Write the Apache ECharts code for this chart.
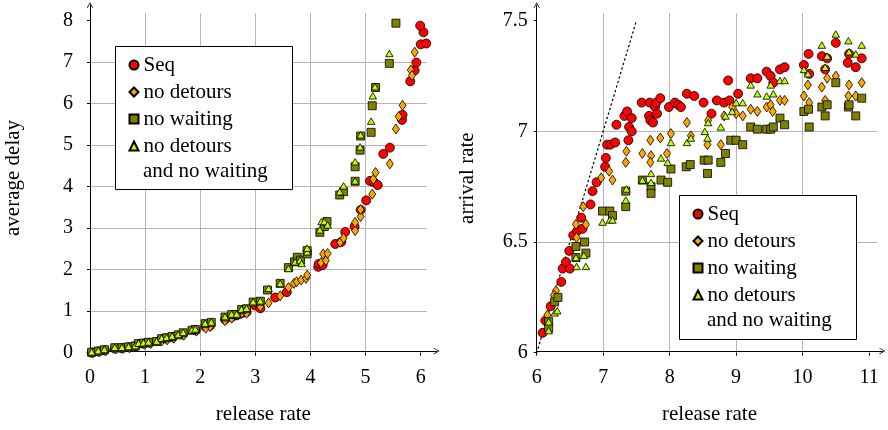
<!DOCTYPE html>
<html><head><meta charset="utf-8">
<script src="https://cdn.jsdelivr.net/npm/echarts@6/dist/echarts.min.js"></script>
<style>html,body{margin:0;padding:0;background:#fff}#c{width:888px;height:430px}</style>
</head><body><div id="c"></div>
<script>
// ---------- data: left panel (release rate -> average delay) ----------
const seriesNames = ['Seq', 'no detours', 'no waiting', 'no detours and no waiting'];
const xTicksL = [0, 1, 2, 3, 4, 5, 6];
const yTicksL = [0, 1, 2, 3, 4, 5, 6, 7, 8];
const xTicksR = [6, 7, 8, 9, 10, 11];
const yTicksR = [6, 6.5, 7, 7.5];
const diagR = [[6, 6], [7.5, 7.5]];

const seqL = [[0.03,0.0],[0.15,0.03],[0.27,0.06],[0.45,0.10],[0.57,0.11],[0.70,0.13],[0.82,0.16],[0.97,0.22],[1.08,0.24],[1.27,0.30],[1.38,0.34],[1.50,0.37],[1.68,0.44],[1.92,0.54],[2.09,0.63],[2.18,0.65],[2.45,0.80],[2.57,0.86],[2.66,0.90],[2.75,0.95],[2.84,0.98],[2.99,1.14],[3.09,1.07],[3.36,1.33],[3.57,1.46],[4.14,2.07],[4.15,2.14],[4.22,2.11],[4.45,2.62],[4.56,2.67],[4.63,2.91],[4.80,3.04],[4.91,3.44],[5.01,3.67],[5.08,4.14],[5.15,4.11],[5.22,4.04],[5.32,4.79],[5.44,4.94],[5.66,5.61],[5.67,5.73],[5.81,6.54],[5.89,6.80],[5.92,6.99],[6.00,7.43],[6.10,7.45],[6.05,7.72],[5.99,7.88]];
const detL = [[0.05,0.00],[0.17,0.02],[0.28,0.04],[0.47,0.09],[0.60,0.10],[0.72,0.12],[0.85,0.15],[0.99,0.20],[1.10,0.22],[1.30,0.28],[1.40,0.31],[1.52,0.35],[1.70,0.42],[1.93,0.52],[2.10,0.59],[2.18,0.63],[2.45,0.77],[2.57,0.83],[2.66,0.91],[2.75,0.95],[2.84,0.95],[3.09,1.11],[3.24,1.20],[3.45,1.37],[3.60,1.57],[3.70,1.67],[3.75,1.71],[3.83,1.75],[3.92,1.79],[3.94,1.87],[4.19,2.17],[4.23,2.38],[4.28,2.22],[4.31,2.39],[4.54,2.66],[4.60,2.76],[4.81,2.94],[4.81,3.14],[4.91,3.28],[4.91,3.45],[5.12,3.82],[5.14,4.18],[5.18,4.34],[5.44,4.55],[5.55,5.39],[5.60,5.69],[5.67,5.96],[5.82,6.81],[5.84,6.68],[5.89,7.24]];
const waitL = [[0.03,0.01],[0.15,0.04],[0.26,0.07],[0.45,0.12],[0.58,0.12],[0.70,0.14],[0.82,0.16],[0.88,0.22],[0.97,0.23],[1.06,0.25],[1.21,0.27],[1.30,0.34],[1.39,0.36],[1.49,0.39],[1.60,0.43],[1.69,0.48],[1.85,0.54],[1.91,0.56],[2.09,0.70],[2.20,0.73],[2.45,0.86],[2.57,0.92],[2.66,0.92],[2.75,1.04],[2.84,1.06],[2.96,1.22],[3.09,1.24],[3.22,1.51],[3.45,1.67],[3.60,2.05],[3.71,2.19],[3.76,2.30],[3.82,2.23],[3.94,2.38],[3.94,2.46],[4.17,2.90],[4.25,3.04],[4.30,3.16],[4.53,3.80],[4.60,3.88],[4.81,4.13],[4.81,4.48],[4.90,4.88],[4.91,5.22],[5.10,5.31],[5.12,5.95],[5.18,6.39],[5.43,6.97],[5.55,7.94]];
const bothL = [[0.03,0.02],[0.15,0.05],[0.26,0.08],[0.45,0.13],[0.58,0.13],[0.70,0.15],[0.82,0.17],[0.88,0.23],[0.97,0.24],[1.06,0.26],[1.21,0.28],[1.30,0.35],[1.39,0.37],[1.49,0.40],[1.60,0.44],[1.69,0.49],[1.85,0.55],[1.91,0.57],[2.09,0.71],[2.20,0.74],[2.45,0.87],[2.57,0.93],[2.66,0.93],[2.75,1.05],[2.84,1.07],[2.96,1.23],[3.09,1.25],[3.24,1.55],[3.45,1.67],[3.60,2.03],[3.72,2.19],[3.81,2.23],[3.84,2.15],[3.94,2.43],[3.94,2.52],[4.17,2.96],[4.20,3.16],[4.25,3.16],[4.31,3.08],[4.53,3.88],[4.60,4.02],[4.81,4.14],[4.81,4.60],[4.90,4.96],[4.91,5.25],[5.10,5.58],[5.13,6.19],[5.17,6.41],[5.43,7.21]];

// ---------- data: right panel (release rate -> arrival rate) ----------
const seqR = [[6.09,6.09],[6.13,6.145],[6.21,6.21],[6.37,6.32],[6.39,6.38],[6.50,6.38],[6.44,6.41],[6.49,6.46],[6.55,6.53],[6.61,6.55],[6.67,6.61],[6.69,6.56],[6.81,6.67],[6.84,6.73],[6.90,6.77],[7.03,6.84],[7.04,6.88],[7.06,6.94],[7.11,6.94],[7.18,6.95],[7.20,7.03],[7.32,7.07],[7.36,7.09],[7.43,7.06],[7.39,7.02],[7.43,7.00],[7.38,6.96],[7.58,7.13],[7.69,7.07],[7.70,7.13],[7.71,7.05],[7.75,7.04],[7.78,7.11],[7.80,7.13],[7.81,7.08],[7.86,7.15],[7.99,7.11],[8.08,7.13],[8.13,7.12],[8.17,7.11],[8.26,7.17],[8.37,7.16],[8.51,7.13],[8.63,7.08],[8.71,7.14],[8.82,7.13],[8.90,7.14],[8.88,7.23],[9.03,7.17],[9.22,7.24],[9.32,7.24],[9.46,7.27],[9.52,7.25],[9.56,7.22],[9.66,7.28],[9.73,7.29],[10.02,7.30],[10.09,7.35],[10.10,7.26],[10.29,7.34],[10.34,7.28],[10.37,7.33],[10.50,7.40],[10.68,7.31],[10.70,7.35],[10.80,7.29],[10.89,7.33]];
const detR = [[6.16,6.17],[6.29,6.28],[6.26,6.26],[6.59,6.58],[6.60,6.52],[6.70,6.66],[6.74,6.58],[6.97,6.79],[7.09,6.82],[7.14,6.78],[7.35,6.91],[7.34,6.86],[7.59,6.90],[7.72,6.89],[7.71,6.86],[7.71,6.96],[7.86,6.97],[7.96,6.90],[8.02,6.99],[8.26,7.04],[8.32,6.98],[8.57,6.94],[8.58,7.05],[8.77,6.94],[8.82,7.07],[8.94,7.11],[9.00,7.08],[9.10,7.07],[9.22,7.10],[9.32,7.09],[9.46,7.11],[9.52,7.12],[9.55,7.09],[9.66,7.14],[9.73,7.14],[10.02,7.16],[10.08,7.21],[10.10,7.13],[10.29,7.20],[10.34,7.14],[10.37,7.24],[10.50,7.25],[10.70,7.21],[10.69,7.16],[10.80,7.16],[10.89,7.22]];
const waitR = [[6.18,6.14],[6.18,6.11],[6.27,6.23],[6.32,6.25],[6.59,6.48],[6.59,6.43],[6.72,6.50],[6.74,6.45],[6.99,6.64],[7.10,6.64],[7.14,6.62],[7.34,6.73],[7.34,6.66],[7.59,6.78],[7.72,6.75],[7.72,6.72],[7.87,6.78],[7.97,6.77],[8.02,6.83],[8.25,6.84],[8.31,6.85],[8.52,6.87],[8.58,6.87],[8.57,6.81],[8.77,6.86],[8.84,6.90],[8.92,6.96],[9.00,6.96],[9.10,6.94],[9.22,7.02],[9.32,7.01],[9.46,7.01],[9.52,7.01],[9.56,7.02],[9.66,7.06],[9.73,7.03],[10.02,7.09],[10.09,7.10],[10.10,7.02],[10.29,7.11],[10.34,7.07],[10.37,7.12],[10.50,7.22],[10.69,7.11],[10.70,7.12],[10.80,7.07],[10.89,7.15]];
const bothR = [[6.18,6.10],[6.18,6.14],[6.27,6.18],[6.31,6.19],[6.60,6.39],[6.59,6.43],[6.71,6.44],[6.74,6.39],[6.99,6.59],[7.10,6.60],[7.14,6.60],[7.34,6.69],[7.35,6.74],[7.59,6.78],[7.72,6.77],[7.72,6.81],[7.87,6.88],[7.97,6.86],[8.02,6.95],[8.26,6.95],[8.32,6.97],[8.53,7.00],[8.57,6.97],[8.58,7.04],[8.77,7.02],[8.84,7.07],[8.94,7.09],[9.00,7.13],[9.10,7.13],[9.22,7.21],[9.32,7.17],[9.46,7.16],[9.52,7.21],[9.56,7.17],[9.66,7.23],[9.73,7.23],[10.02,7.28],[10.08,7.26],[10.29,7.39],[10.34,7.29],[10.37,7.34],[10.50,7.44],[10.69,7.41],[10.70,7.36],[10.80,7.35],[10.89,7.39]];

// ---------- styling ----------
const FONT = 'Liberation Serif';
const styles = [
  { symbol: 'circle',   size: 9,       color: '#ff0000' },
  { symbol: 'diamond',  size: [7, 10], color: '#ffa500' },
  { symbol: 'rect',     size: 8,       color: '#808000' },
  { symbol: 'triangle', size: [7.5, 6.5], color: '#bfff00' }
];
const arrowPath = 'path://M0,9 L5,0 L10,9 L9,9.6 L5,2.2 L1,9.6 Z';

function arrowAxis(grid, min, max) {
  return {
    type: 'value', gridIndex: grid, min: min, max: max,
    axisLine: { show: true, onZero: false, lineStyle: { color: '#000', width: 1 },
      symbol: ['none', arrowPath], symbolSize: [8, 6] },
    axisTick: { show: false }, axisLabel: { show: false }, splitLine: { show: false }
  };
}
function mainAxis(grid, min, max, interval, ticks, margin) {
  return {
    type: 'value', gridIndex: grid, min: min, max: max, interval: interval,
    axisLine: { show: false },
    axisTick: { show: true, length: 3, customValues: ticks, lineStyle: { color: '#000' } },
    axisLabel: { show: true, customValues: ticks, margin: margin,
      fontFamily: FONT, fontSize: 20, color: '#000' },
    splitLine: { show: true, showMinLine: false, showMaxLine: false,
      lineStyle: { color: '#b5b5b5', width: 1 } }
  };
}
function titled(ax, name, gap, rotate) {
  return Object.assign(ax, { name: name, nameLocation: 'middle', nameGap: gap, nameRotate: rotate,
    nameTextStyle: { fontFamily: FONT, fontSize: 21, color: '#000' } });
}

const grids = [
  { left: 90, top: 4.9,  width: 346.7, height: 347.8 },   // left arrows
  { left: 90, top: 13.2, width: 336.8, height: 339.5 },   // left main
  { left: 536.7, top: 5.3, width: 345.6, height: 347.4 }, // right arrows
  { left: 536.7, top: 13.2, width: 340.3, height: 339.5 } // right main
];

const xAxes = [
  titled(arrowAxis(0, 0, 6.29), 'release rate', 53, 0),
  mainAxis(1, 0, 6.11, 1, xTicksL, 15),
  titled(arrowAxis(2, 6, 11.2), 'release rate', 53, 0),
  mainAxis(3, 6, 11.12, 1, xTicksR, 15)
];
const yAxes = [
  titled(arrowAxis(0, 0, 8.38), 'average delay', 66, 90),
  mainAxis(1, 0, 8.18, 1, yTicksL, 17),
  titled(arrowAxis(2, 6, 7.57), 'arrival rate', 59, 90),
  mainAxis(3, 6, 7.534, 0.5, yTicksR, 9)
];

function scatter(name, data, axisIdx, st) {
  return {
    type: 'scatter', name: name, data: data, xAxisIndex: axisIdx, yAxisIndex: axisIdx,
    symbol: st.symbol, symbolSize: st.size, z: 2,
    itemStyle: { color: st.color, borderColor: '#000', borderWidth: 0.8, opacity: 1 },
    emphasis: { disabled: true }
  };
}
const leftData = [seqL, detL, waitL, bothL];
const rightData = [seqR, detR, waitR, bothR];
const series = [];
series.push({ type: 'line', name: 'diag', data: diagR, xAxisIndex: 3, yAxisIndex: 3, symbol: 'none',
  lineStyle: { color: '#000', width: 1.3, type: [1.3, 3.4], cap: 'round' }, silent: true, z: 1 });
seriesNames.forEach((n, i) => series.push(scatter(n, leftData[i], 1, styles[i])));
seriesNames.forEach((n, i) => series.push(scatter(n, rightData[i], 3, styles[i])));

function legend(left, top) {
  return {
    data: seriesNames, orient: 'vertical', left: left, top: top, padding: 0, itemGap: 6,
    itemWidth: 9, itemHeight: 9, z: 10,
    textStyle: { fontFamily: FONT, fontSize: 21, color: '#000' },
    formatter: n => n === 'no detours and no waiting' ? 'no detours' : n,
    selectedMode: false
  };
}

const option = {
  animation: false,
  backgroundColor: '#fff',
  grid: grids,
  xAxis: xAxes,
  yAxis: yAxes,
  legend: [legend(128.5, 54.5), legend(692.5, 203.5)],
  graphic: [
    { type: 'rect', z: 8, shape: { x: 115.5, y: 46.5, width: 177, height: 143 },
      style: { fill: '#fff', stroke: '#000', lineWidth: 1 } },
    { type: 'text', z: 11, x: 143, y: 171, style: { text: 'and no waiting', font: '21px "' + FONT + '"', fill: '#000', verticalAlign: 'middle' } },
    { type: 'rect', z: 8, shape: { x: 679.5, y: 195.5, width: 177, height: 144 },
      style: { fill: '#fff', stroke: '#000', lineWidth: 1 } },
    { type: 'text', z: 11, x: 707, y: 320, style: { text: 'and no waiting', font: '21px "' + FONT + '"', fill: '#000', verticalAlign: 'middle' } }
  ],
  series: series
};
const chart = echarts.init(document.getElementById('c'), null, { renderer: 'canvas' });
chart.setOption(option);
</script></body></html>
